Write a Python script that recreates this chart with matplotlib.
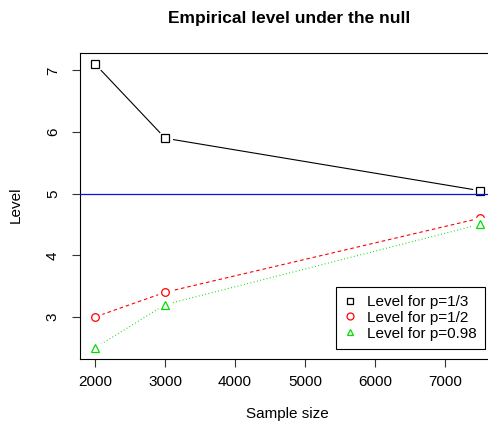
import matplotlib
matplotlib.use('Agg')
import matplotlib.pyplot as plt
from matplotlib.lines import Line2D

plt.rcParams['font.family'] = ['Liberation Sans', 'DejaVu Sans']

# Data
sample_size = [2000, 3000, 7500]
level_p13 = [7.1, 5.9, 5.05]
level_p12 = [3.0, 3.4, 4.6]
level_p098 = [2.5, 3.2, 4.5]
null_level = 5
labels = ['Level for p=1/3', 'Level for p=1/2', 'Level for p=0.98']
x_ticks = [2000, 3000, 4000, 5000, 6000, 7000]
y_ticks = [3, 4, 5, 6, 7]

W, H = 489, 423
fig = plt.figure(figsize=(W / 100, H / 100), dpi=100)
ax = fig.add_axes([80 / W, 1 - 359 / H, 415 / W, 306 / H])

# R-like 4% padding of the data range
xr = max(sample_size) - min(sample_size)
ax.set_xlim(min(sample_size) - 0.04 * xr, max(sample_size) + 0.04 * xr)
ally = level_p13 + level_p12 + level_p098
yr = max(ally) - min(ally)
ax.set_ylim(min(ally) - 0.04 * yr, max(ally) + 0.04 * yr)

green = '#00DD00'
series = [
    (level_p13, 'black', '-', 's', None),
    (level_p12, 'red', '--', 'o', (3.2, 2.6)),
    (level_p098, green, ':', '^', (0.8, 2.2)),
]
for i, (vals, col, ls, mk, dash) in enumerate(series):
    ln, = ax.plot(sample_size, vals, color=col, lw=0.8, ls=ls, zorder=2 + 2 * i)
    if dash is not None:
        ln.set_dashes(dash)
    # white halo so the line stops short of the symbol (type="b")
    ax.plot(sample_size, vals, ls='none', marker='o', ms=10, mfc='white',
            mec='white', zorder=3 + 2 * i)
    ax.plot(sample_size, vals, ls='none', marker=mk, ms=5.5, mfc='none',
            mec=col, mew=0.9, zorder=3.5 + 2 * i)

ax.axhline(null_level, color='#1010E0', lw=0.9, zorder=10)

ax.set_xticks(x_ticks)
ax.set_yticks(y_ticks)
ax.tick_params(direction='out', length=5.5, width=0.8, labelsize=11, color='#333333')
ax.tick_params(axis='x', pad=6)
ax.tick_params(axis='y', pad=9)
for lab in ax.get_yticklabels():
    lab.set_rotation(90)
    lab.set_va('center')
for s in ax.spines.values():
    s.set_linewidth(0.8)
ax.spines['right'].set_visible(False)

fig.text(289 / W, 1 - 18 / H, 'Empirical level under the null', ha='center',
         va='center', fontsize=12.5, fontweight='bold')
fig.text(287 / W, 1 - 414 / H, 'Sample size', ha='center', va='center', fontsize=11)
fig.text(16 / W, 1 - 205 / H, 'Level', ha='center', va='center', fontsize=11,
         rotation=90)

handles = [
    Line2D([], [], ls='none', marker='s', ms=5, mfc='none', mec='black', mew=0.9),
    Line2D([], [], ls='none', marker='o', ms=5, mfc='none', mec='red', mew=0.9),
    Line2D([], [], ls='none', marker='^', ms=5, mfc='none', mec=green, mew=0.9),
]
leg = ax.legend(handles, labels, loc='lower right',
                bbox_to_anchor=(485 / W, 1 - 349 / H), bbox_transform=fig.transFigure,
                fancybox=False, framealpha=1, edgecolor='black', fontsize=11,
                handlelength=0.8, handletextpad=0.7, labelspacing=0.12,
                borderpad=0.55, borderaxespad=0)
leg.get_frame().set_linewidth(0.8)

fig.savefig('out.png', dpi=100)
